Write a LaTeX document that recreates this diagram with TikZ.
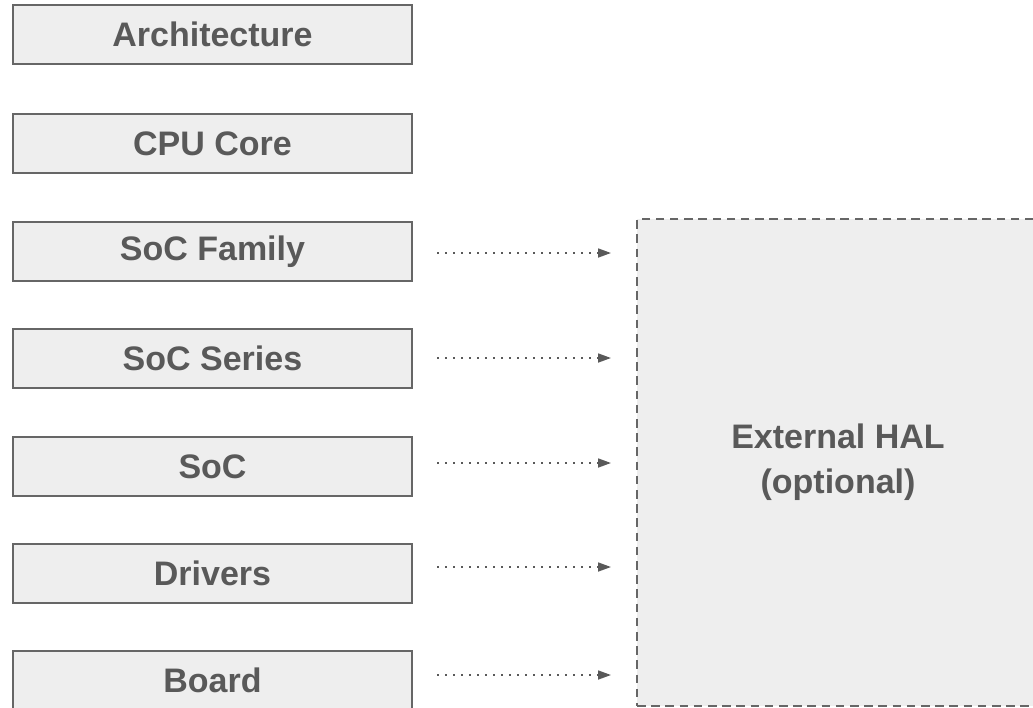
\documentclass[tikz,border=0pt]{standalone}
\usepackage{fontspec}
\setmainfont{Liberation Sans}
\usetikzlibrary{arrows.meta}
\definecolor{boxfill}{HTML}{EEEEEE}
\definecolor{boxline}{HTML}{666666}
\definecolor{txt}{HTML}{595959}
\tikzset{
  layerbox/.style={draw=boxline, line width=2pt, fill=boxfill, rectangle,
    minimum width=399pt, minimum height=59pt, anchor=north west, inner sep=0pt,
    text=txt, font=\fontsize{34}{42}\selectfont\bfseries},
  halbox/.style={draw=boxline, line width=2pt, fill=boxfill, rectangle,
    dash pattern=on 8.5pt off 5.7pt,
    minimum width=402pt, minimum height=487pt, anchor=north west, inner sep=0pt,
    text=txt, align=center, font=\fontsize{34}{45}\selectfont\bfseries},
  dotarrow/.style={draw=txt, line width=1.7pt, dash pattern=on 1.7pt off 6.3pt,
    -{Triangle[length=13pt,width=9pt]}}
}
\begin{document}
\begin{tikzpicture}[x=1pt,y=-1pt]
\useasboundingbox (0,0) rectangle (1033,707);
\node[layerbox] (arch) at (12,4) {Architecture};
\node[layerbox] (cpu) at (12,113) {CPU Core};
\node[layerbox] (fam) at (12,221) {SoC Family};
\node[layerbox] (ser) at (12,328) {SoC Series};
\node[layerbox] (soc) at (12,436) {SoC};
\node[layerbox] (drv) at (12,543) {Drivers};
\node[layerbox] (brd) at (12,650) {Board};
\node[halbox] (hal) at (636,218) {External HAL\\(optional)};
\foreach \n/\y in {a/253,b/358,c/463,d/567,e/675}{
  \coordinate (s\n) at (437,\y);
  \coordinate (t\n) at (611,\y);
}
\draw[dotarrow] (sa) -- (ta);
\draw[dotarrow] (sb) -- (tb);
\draw[dotarrow] (sc) -- (tc);
\draw[dotarrow] (sd) -- (td);
\draw[dotarrow] (se) -- (te);
\end{tikzpicture}
\end{document}
